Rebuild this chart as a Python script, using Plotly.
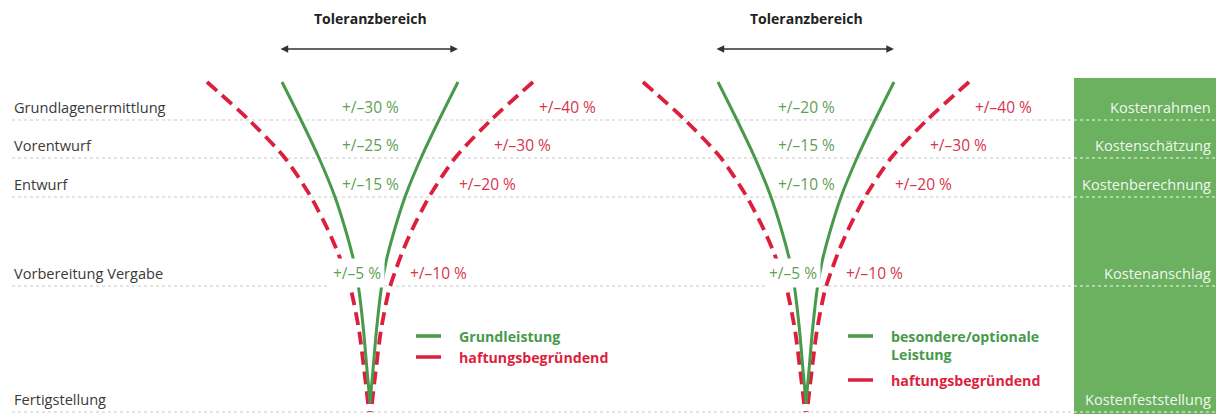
import plotly.graph_objects as go

# ---------------- data ----------------
phases = ["Grundlagenermittlung", "Vorentwurf", "Entwurf", "Vorbereitung Vergabe", "Fertigstellung"]
cost_stages = ["Kostenrahmen", "Kostenschätzung", "Kostenberechnung", "Kostenanschlag", "Kostenfeststellung"]
phase_pos = [120, 158, 197, 286, 412]          # vertical position of each phase row

# tolerances (in %) per phase, first four phases
tol_basic = [30, 25, 15, 5]          # Grundleistung
tol_liab_left = [40, 30, 20, 10]     # haftungsbegründend (left)
tol_optional = [20, 15, 10, 5]       # besondere/optionale Leistung
tol_liab_right = [40, 30, 20, 10]    # haftungsbegründend (right)

# funnel outlines: half width of the funnel at given heights
green_y = [82, 120, 158, 197, 235, 262, 287, 330, 370, 403]
green_half = [88, 69, 51, 35, 23, 16, 11.5, 6.5, 3, 0]
red_y = [82, 120, 158, 197, 230, 253, 272, 290, 330, 377, 412]
red_half = [163, 121, 85, 59, 42, 32, 25, 19, 11, 5, 1]

legend_left = ["Grundleistung", "haftungsbegründend"]
legend_right = ["besondere/optionale", "Leistung", "haftungsbegründend"]
title_text = "Toleranzbereich"

# ---------------- styles ----------------
FONT = "Open Sans"
GREEN = "#48994a"
RED = "#dc1f3c"
GREEN_TXT = "#5f9f55"
RED_TXT = "#d8334b"
BOX = "#6cb160"
GRID = "#c9c9c9"
TXT = "#3a3a3a"

W, H = 1216, 414
centers = [370, 806]
box_left = 1074
box_top = 78

fig = go.Figure()

# dotted row lines
shapes = []
for p in phase_pos:
    shapes.append(dict(type="line", x0=12, x1=box_left, y0=p, y1=p, xref="x", yref="y",
                       line=dict(color=GRID, width=1, dash="dot"), layer="below"))
# green box
shapes.append(dict(type="rect", x0=box_left, x1=W, y0=box_top, y1=H, xref="x", yref="y",
                   fillcolor=BOX, line=dict(width=0), layer="below"))
for p in phase_pos:
    shapes.append(dict(type="line", x0=box_left, x1=W, y0=p, y1=p, xref="x", yref="y",
                       line=dict(color="rgba(255,255,255,0.9)", width=1, dash="dot"), layer="above"))

# funnels
for c in centers:
    for sgn in (-1, 1):
        fig.add_trace(go.Scatter(
            x=[c + sgn * h for h in red_half], y=red_y, mode="lines",
            line=dict(color=RED, width=3.8, dash="13px,7px", shape="spline", smoothing=0.7),
            hoverinfo="skip", showlegend=False))
    for sgn in (-1, 1):
        fig.add_trace(go.Scatter(
            x=[c + sgn * h for h in green_half], y=green_y, mode="lines",
            line=dict(color=GREEN, width=3, shape="spline", smoothing=0.7),
            hoverinfo="skip", showlegend=False))

annotations = []

def txt(x, y, s, color, size=14, bold=False, xanchor="center", bg=None, pad=1):
    annotations.append(dict(
        x=x, y=y, xref="x", yref="y", text=("<b>%s</b>" % s) if bold else s,
        showarrow=False, xanchor=xanchor, yanchor="middle",
        font=dict(family=FONT, size=size, color=color),
        bgcolor=bg if bg else "rgba(0,0,0,0)", borderpad=pad))

# phase labels and cost stages
for name, p in zip(phases, phase_pos):
    txt(12, p - 13, name, TXT, size=14.6, xanchor="left")
for name, p in zip(cost_stages, phase_pos):
    txt(1213, p - 13, name, "rgba(255,255,255,0.92)", size=14.6, xanchor="right")

# tolerance labels
red_dx = [197, 152, 117, 68]
green_dx = [0, 0, 0, -13]
for c, tg, tr in ((centers[0], tol_basic, tol_liab_left), (centers[1], tol_optional, tol_liab_right)):
    for i in range(4):
        last = i == 3
        txt(c + green_dx[i], phase_pos[i] - 13, "+/–%d %%" % tg[i], GREEN_TXT, size=15.5,
            bg="white" if last else None, pad=3 if last else 1)
        txt(c + red_dx[i], phase_pos[i] - 13, "+/–%d %%" % tr[i], RED_TXT, size=15.5)

# titles with double arrows
for c in centers:
    txt(c, 18, title_text, "#222222", bold=True)
    annotations.append(dict(x=c + 88, y=49, ax=c - 91, ay=49, xref="x", yref="y", axref="x", ayref="y",
                            text="", showarrow=True, arrowhead=2, startarrowhead=2, arrowside="end+start",
                            arrowsize=1.1, startarrowsize=1.1, arrowwidth=1.4, arrowcolor="#333333"))

# legends
def legend_item(x, y, color, label):
    shapes.append(dict(type="line", x0=x, x1=x + 25, y0=y, y1=y, xref="x", yref="y",
                       line=dict(color=color, width=3.5)))
    txt(x + 41, y, label, color, size=14.2, bold=True, xanchor="left")

legend_item(416, 336, GREEN, legend_left[0])
legend_item(416, 357, RED, legend_left[1])
legend_item(848, 336, GREEN, legend_right[0])
txt(889, 354, legend_right[1], GREEN, size=14.2, bold=True, xanchor="left")
legend_item(848, 380, RED, legend_right[2])

fig.update_layout(
    width=W, height=H, margin=dict(l=0, r=0, t=0, b=0),
    paper_bgcolor="white", plot_bgcolor="white",
    xaxis=dict(range=[0, W], visible=False, fixedrange=True),
    yaxis=dict(range=[H, 0], visible=False, fixedrange=True),
    shapes=shapes, annotations=annotations, showlegend=False,
)

fig.write_html("out.html")
